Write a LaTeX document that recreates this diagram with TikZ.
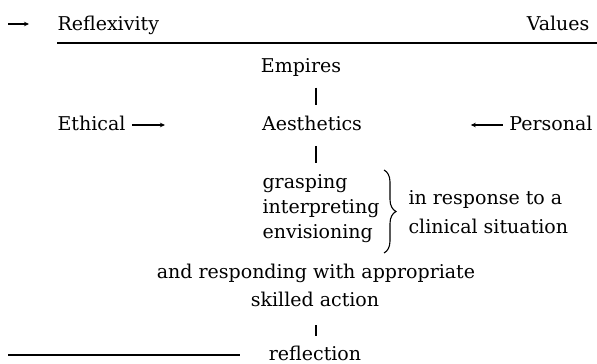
\documentclass[tikz,border=0pt]{standalone}
\usepackage{fontspec}
\setmainfont{DejaVu Serif}
\usetikzlibrary{arrows.meta,decorations.pathreplacing}

\begin{document}
\begin{tikzpicture}[x=1pt,y=-1pt,>={Stealth[length=5pt,width=4.5pt]},line width=1.1pt,
  every node/.style={font=\fontsize{19}{23}\selectfont,inner sep=0pt},
  bar/.style={line width=1.1pt}]
\useasboundingbox (0,0) rectangle (597,364);
% top row
\node[anchor=base west] (refl) at (57,30) {Reflexivity};
\node[anchor=base east] (values) at (590,30) {Values};
\coordinate (top0) at (8,24);
\draw[->] (top0)--(29,24);
\draw (refl.base west)++(0,13) coordinate (rule0) -- (597,43);
% centre column
\coordinate (bar) at (316,0);
\node[anchor=base] (empires) at (301,72) {Empires};
\node[anchor=base] (aesth) at (312,130) {Aesthetics};
\draw[bar] ([yshift=-11pt]empires.south -| bar) -- ([yshift=10pt]aesth.north -| bar);
\node[anchor=base west] (ethical) at (57,130) {Ethical};
\node[anchor=base east] (personal) at (593,130) {Personal};
\draw[->] ([xshift=6pt,yshift=5pt]ethical.base east)--++(33,0);
\draw[->] ([xshift=-6pt,yshift=5pt]personal.base west)--++(-32,0);
\node[anchor=base west] (grasp) at (262,188) {grasping};
\node[anchor=base west] (interp) at (262,213) {interpreting};
\node[anchor=base west] (envis) at (262,238) {envisioning};
\draw[bar] ([yshift=-15pt]aesth.south -| bar)--([yshift=10pt]grasp.north -| bar);
\draw[decorate,decoration={brace,amplitude=12pt},line width=1.1pt] (384,170)--(384,253);
\node[anchor=base west] (resp) at (408,204) {in response to a};
\node[anchor=base west] (clin) at (408,233) {clinical situation};
\node[anchor=base] (respond) at (316,278) {and responding with appropriate};
\node[anchor=base] (skill) at (315,306) {skilled action};
\node[anchor=base] (reflect) at (315,360) {reflection};
\draw[bar] ([yshift=-19pt]skill.base -| bar)--([yshift=9pt]reflect.north -| bar);
\draw (8,355)--(240,355);
\end{tikzpicture}
\end{document}
